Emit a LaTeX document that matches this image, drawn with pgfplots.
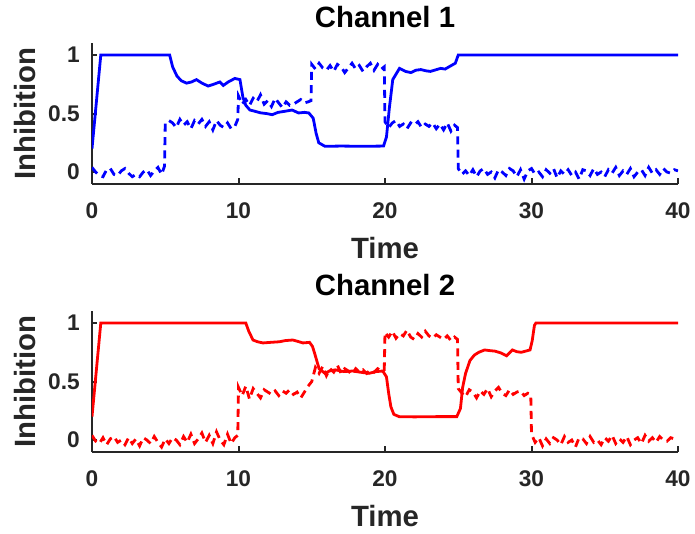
\documentclass[border=0pt]{standalone}
\usepackage{pgfplots}
\pgfplotsset{compat=1.18}
\usepackage{fontspec}
\setmainfont{Liberation Sans}
\definecolor{axgray}{RGB}{38,38,38}
\pgfplotsset{
 chan/.style={
  scale only axis, width=439.5pt, height=105.3pt,
  xmin=0, xmax=40, ymin=-0.1, ymax=1.1,
  axis x line=bottom, axis y line=left,
  axis line style={-, line width=1.5pt, color=axgray},
  xtick={0,10,20,30,40}, xticklabels={0,10,20,30,40},
  ytick={0,0.5,1}, yticklabels={0,0.5,1},
  tick style={line width=1.5pt, color=axgray},
  major tick length=4pt,
  tick align=inside,
  ticklabel style={font=\bfseries\fontsize{17}{17}\selectfont, text=axgray},
  xticklabel style={anchor=base, inner sep=0pt, yshift=-26pt},
  yticklabel style={anchor=east, inner sep=0pt, xshift=-9pt},
  /pgf/number format/assume math mode=true,
  xlabel={Time}, ylabel={Inhibition},
  label style={font=\bfseries\fontsize{22}{22}\selectfont, text=axgray, inner sep=0pt},
  xlabel style={at={(axis description cs:0.5,0)}, anchor=base, yshift=-56pt},
  ylabel style={at={(axis description cs:0,0.5)}, anchor=base, yshift=42pt},
  title style={font=\bfseries\fontsize{22}{22}\selectfont, inner sep=0pt, at={(axis description cs:0.5,1)}, anchor=base, yshift=6pt},
  anchor=south west,
 },
 sol/.style={line width=2.1pt},
 das/.style={line width=2.1pt, dash pattern=on 6pt off 4pt},
}
\begin{document}
\begin{tikzpicture}
\useasboundingbox (-69pt,-61pt) rectangle (452.25pt,338.8pt);
\begin{axis}[chan, at={(0pt,201pt)}, title={Channel 1}]
\addplot[sol, blue] coordinates {
(0,0.2) (0.6,1.0) (5.3,1.0) (5.5,0.9) (5.8,0.82) (6.1,0.78) (6.45,0.76) (6.8,0.77) (7.13,0.79) (7.5,0.76) (7.93,0.735) (8.3,0.75) (8.73,0.77) (8.96,0.74) (9.3,0.77) (9.75,0.80) (10.1,0.79) (10.3,0.64) (10.5,0.57) (10.78,0.53) (11.1,0.52) (11.5,0.506) (11.9,0.50) (12.3,0.49) (12.7,0.51) (13.2,0.52) (13.66,0.53) (14.1,0.505) (14.5,0.51) (14.8,0.505) (15.1,0.46) (15.3,0.33) (15.48,0.25) (15.9,0.22) (17,0.222) (18.5,0.22) (19.9,0.222) (20.1,0.30) (20.3,0.55) (20.53,0.79) (20.99,0.886) (21.4,0.86) (21.77,0.85) (22.1,0.87) (22.45,0.876) (22.8,0.865) (23.1,0.86) (23.5,0.875) (23.8,0.886) (24.1,0.88) (24.45,0.905) (24.8,0.93) (25.0,1.0) (40,1.0)};
\addplot[das, blue] coordinates {
(0,0.04) (0.25,0.0) (0.5,-0.03) (0.75,-0.04) (1,0.02) (1.25,0.03) (1.5,-0.02) (1.75,-0.03) (2,0.01) (2.25,0.03) (2.5,-0.01) (2.75,-0.04) (3,-0.02) (3.25,-0.04) (3.5,0.0) (3.75,0.02) (4,-0.03) (4.25,0.01) (4.5,0.04) (4.75,-0.02) (4.95,0.05)
(5.0,0.42) (5.25,0.44) (5.5,0.42) (5.75,0.38) (6,0.45) (6.25,0.40) (6.5,0.43) (6.75,0.37) (7,0.44) (7.25,0.41) (7.5,0.45) (7.75,0.39) (8,0.43) (8.25,0.36) (8.5,0.44) (8.75,0.40) (9,0.38) (9.25,0.42) (9.5,0.37) (9.75,0.39) (9.95,0.45)
(10,0.65) (10.25,0.58) (10.5,0.62) (10.75,0.57) (11,0.63) (11.25,0.60) (11.5,0.66) (11.75,0.58) (12,0.61) (12.25,0.56) (12.5,0.63) (12.75,0.59) (13,0.55) (13.25,0.60) (13.5,0.57) (13.75,0.58) (14,0.60) (14.25,0.62) (14.5,0.59) (14.75,0.60) (14.95,0.61)
(15,0.92) (15.25,0.88) (15.5,0.93) (15.75,0.89) (16,0.87) (16.25,0.91) (16.5,0.86) (16.75,0.92) (17,0.90) (17.25,0.85) (17.5,0.89) (17.75,0.93) (18,0.88) (18.25,0.91) (18.5,0.86) (18.75,0.90) (19,0.93) (19.25,0.87) (19.5,0.92) (19.75,0.88) (19.95,0.90)
(20,0.43) (20.25,0.38) (20.5,0.42) (20.75,0.44) (21,0.39) (21.25,0.41) (21.5,0.37) (21.75,0.42) (22,0.40) (22.25,0.43) (22.5,0.38) (22.75,0.41) (23,0.39) (23.25,0.42) (23.5,0.37) (23.75,0.41) (24,0.36) (24.25,0.42) (24.5,0.35) (24.75,0.40) (24.95,0.38)
(25,0.03) (25.25,-0.02) (25.5,0.01) (25.75,-0.03) (26,0.02) (26.25,-0.04) (26.5,0.01) (26.75,0.03) (27,-0.02) (27.25,0.0) (27.5,-0.05) (27.75,0.02) (28,0.0) (28.25,-0.03) (28.5,0.03) (28.75,0.01) (29,-0.04) (29.25,0.02) (29.5,-0.06) (29.75,0.01) (30,0.03) (30.25,-0.02) (30.5,0.0) (30.75,-0.04) (31,0.02) (31.25,-0.01) (31.5,0.03) (31.75,-0.05) (32,0.01) (32.25,-0.02) (32.5,0.02) (32.75,-0.03) (33,0.0) (33.25,-0.06) (33.5,0.02) (33.75,0.01) (34,-0.03) (34.25,0.03) (34.5,-0.02) (34.75,0.0) (35,-0.04) (35.25,0.02) (35.5,-0.01) (35.75,0.04) (36,-0.03) (36.25,0.01) (36.5,-0.02) (36.75,0.03) (37,-0.04) (37.25,0.0) (37.5,0.02) (37.75,-0.03) (38,0.04) (38.25,-0.01) (38.5,0.02) (38.75,-0.02) (39,0.03) (39.25,0.0) (39.5,-0.01) (39.75,0.02) (40,0.01)};
\end{axis}
\begin{axis}[chan, at={(0pt,0pt)}, title={Channel 2}]
\addplot[sol, red] coordinates {
(0,0.2) (0.6,1.0) (10.5,1.0) (10.7,0.93) (10.99,0.855) (11.3,0.84) (11.67,0.83) (12.2,0.835) (12.8,0.84) (13.2,0.85) (13.7,0.855) (14.0,0.845) (14.4,0.83) (14.85,0.835) (15.05,0.80) (15.2,0.74) (15.5,0.61) (15.9,0.57) (16.2,0.59) (16.6,0.60) (17.2,0.585) (17.8,0.59) (18.3,0.58) (18.9,0.57) (19.4,0.585) (19.85,0.59) (20.1,0.54) (20.25,0.40) (20.4,0.285) (20.6,0.22) (20.96,0.20) (22,0.198) (23.5,0.20) (24.9,0.20) (25.15,0.27) (25.3,0.45) (25.5,0.57) (25.8,0.68) (26.1,0.726) (26.4,0.75) (26.8,0.77) (27.1,0.765) (27.5,0.76) (27.9,0.745) (28.3,0.72) (28.7,0.77) (29.0,0.755) (29.3,0.75) (29.6,0.76) (29.9,0.77) (30.05,0.85) (30.2,0.98) (30.3,1.0) (40,1.0)};
\addplot[das, red] coordinates {
(0,0.04) (0.25,-0.01) (0.5,-0.03) (0.75,0.02) (1,-0.04) (1.25,0.01) (1.5,0.03) (1.75,-0.02) (2,0.0) (2.25,-0.04) (2.5,0.02) (2.75,-0.03) (3,0.01) (3.25,-0.05) (3.5,0.02) (3.75,0.0) (4,-0.03) (4.25,0.03) (4.5,-0.02) (4.75,-0.06) (5,0.01) (5.25,-0.03) (5.5,0.02) (5.75,0.0) (6,-0.04) (6.25,0.03) (6.5,-0.02) (6.75,0.05) (7,-0.03) (7.25,0.01) (7.5,0.06) (7.75,-0.02) (8,0.04) (8.25,-0.03) (8.5,0.07) (8.75,0.0) (9,-0.04) (9.25,0.05) (9.5,-0.03) (9.75,0.02) (9.95,0.04)
(10,0.45) (10.25,0.38) (10.5,0.46) (10.75,0.35) (11,0.44) (11.25,0.40) (11.5,0.36) (11.75,0.43) (12,0.41) (12.25,0.39) (12.5,0.42) (12.75,0.38) (13,0.42) (13.25,0.40) (13.5,0.43) (13.75,0.39) (14,0.41) (14.25,0.36) (14.5,0.41) (14.75,0.46) (15,0.50)
(15.25,0.62) (15.5,0.57) (15.75,0.63) (16,0.55) (16.25,0.61) (16.5,0.58) (16.75,0.64) (17,0.57) (17.25,0.61) (17.5,0.59) (17.75,0.56) (18,0.61) (18.25,0.58) (18.5,0.60) (18.75,0.57) (19,0.60) (19.25,0.58) (19.5,0.61) (19.75,0.59) (19.95,0.60)
(20,0.92) (20.25,0.88) (20.5,0.93) (20.75,0.87) (21,0.91) (21.25,0.89) (21.5,0.94) (21.75,0.88) (22,0.86) (22.25,0.91) (22.5,0.88) (22.75,0.93) (23,0.89) (23.25,0.87) (23.5,0.90) (23.75,0.88) (24,0.86) (24.25,0.89) (24.5,0.85) (24.75,0.88) (24.95,0.86)
(25,0.44) (25.25,0.40) (25.5,0.37) (25.75,0.43) (26,0.41) (26.25,0.36) (26.5,0.42) (26.75,0.39) (27,0.44) (27.25,0.37) (27.5,0.42) (27.75,0.45) (28,0.40) (28.25,0.38) (28.5,0.43) (28.75,0.39) (29,0.41) (29.25,0.42) (29.5,0.38) (29.75,0.40) (29.95,0.39)
(30,0.05) (30.25,-0.02) (30.5,0.02) (30.75,-0.05) (31,0.01) (31.25,-0.03) (31.5,0.02) (31.75,0.0) (32,-0.04) (32.25,0.03) (32.5,-0.02) (32.75,0.0) (33,-0.06) (33.25,0.02) (33.5,0.01) (33.75,-0.03) (34,0.03) (34.25,-0.02) (34.5,0.0) (34.75,-0.04) (35,0.02) (35.25,-0.01) (35.5,0.04) (35.75,-0.03) (36,0.01) (36.25,-0.02) (36.5,0.03) (36.75,-0.04) (37,0.0) (37.25,0.02) (37.5,-0.03) (37.75,0.04) (38,-0.01) (38.25,0.02) (38.5,-0.02) (38.75,0.03) (39,0.0) (39.25,-0.01) (39.5,0.02) (39.75,0.01) (40,0.02)};
\end{axis}
\end{tikzpicture}
\end{document}
